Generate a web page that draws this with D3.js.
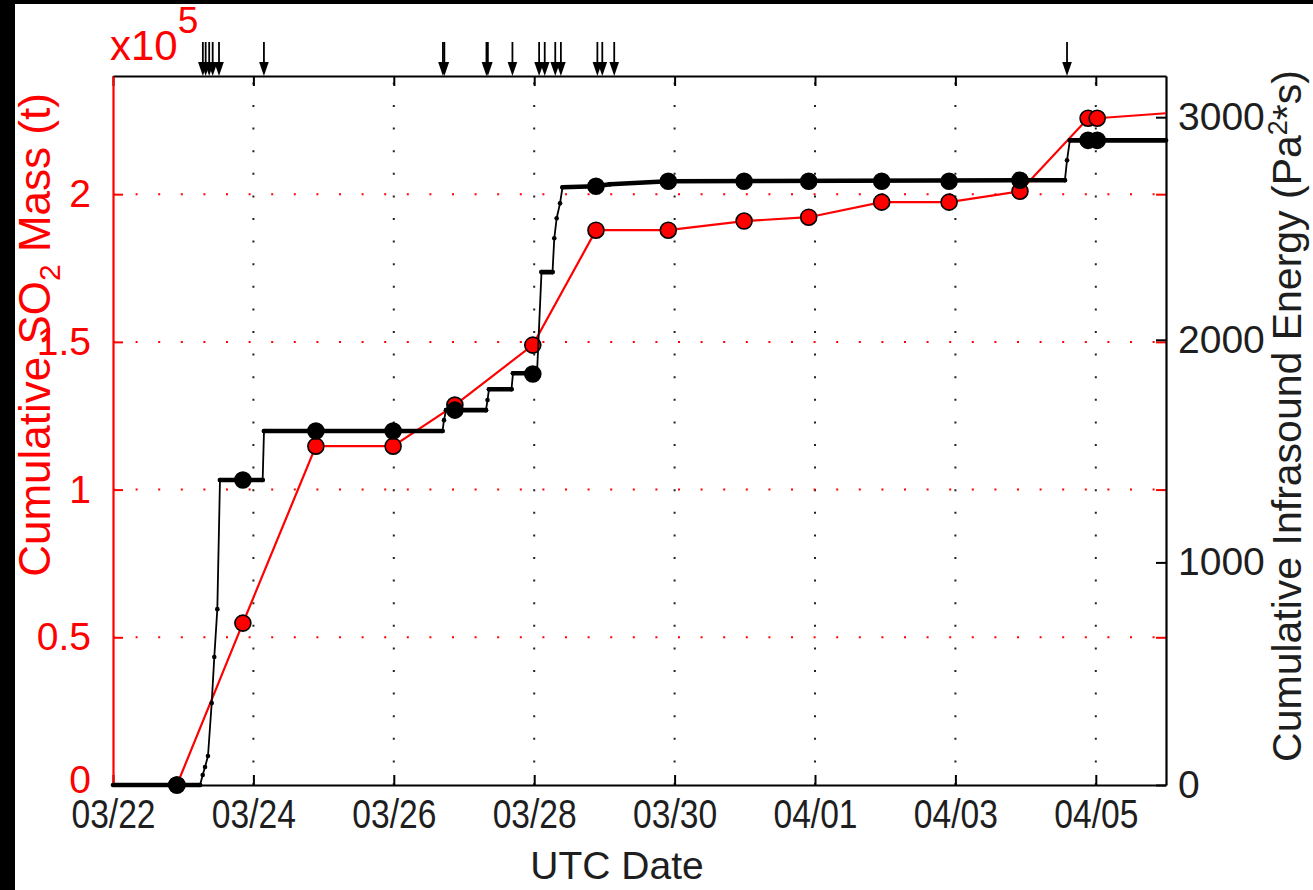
<!DOCTYPE html>
<html>
<head>
<meta charset="utf-8">
<script src="https://cdn.jsdelivr.net/npm/d3@7"></script>
<style>
  html, body { margin: 0; padding: 0; background: #000; }
  svg { display: block; }
  text { font-family: "Liberation Sans", Arial, Helvetica, sans-serif; }
</style>
</head>
<body>
<svg id="chart" width="1313" height="890"></svg>
<script>
// ---------------- DATA ----------------
// x values are days since 03/22 00:00 UTC
const tickDays   = [0, 2, 4, 6, 8, 10, 12, 14];
const tickLabels = ["03/22", "03/24", "03/26", "03/28", "03/30", "04/01", "04/03", "04/05"];
const leftTicks  = [0, 0.5, 1, 1.5, 2];
const leftTickLabels = ["0", "0.5", "1", "1.5", "2"];
const rightTicks = [0, 1000, 2000, 3000];
const rightTickLabels = ["0", "1000", "2000", "3000"];

// SO2 observation times and values (x10^5 t)
const obsDays  = [0.91, 1.85, 2.89, 3.99, 4.87, 5.98, 6.88, 7.91, 8.99, 9.91, 10.95, 11.91, 12.92, 13.89, 14.02];
const so2Mass  = [0, 0.548, 1.147, 1.147, 1.286, 1.489, 1.878, 1.878, 1.909, 1.922, 1.973, 1.973, 2.010, 2.257, 2.257];
// red line continues to the right edge
const so2TailDay = 15.0;
const so2TailMass = 2.274;

// Cumulative infrasound energy at SO2 observation times (Pa^2*s)
const infraAtObs = [0, 1370, 1590, 1590, 1684, 1846, 2690, 2712, 2712, 2712, 2712, 2712, 2717, 2896, 2896];

// Cumulative infrasound energy time series
const infraDays   = [0, 1.24, 1.278, 1.311, 1.353, 1.406, 1.443, 1.486, 1.524, 2.132, 2.151,
                     4.694, 4.715, 4.744, 5.313, 5.335, 5.356, 5.677, 5.698, 6.04, 6.104,
                     6.261, 6.286, 6.32, 6.368, 6.403, 6.88, 7.08, 7.906, 13.56, 13.59, 13.63, 15.0];
const infraEnergy = [0, 0, 45, 81, 130, 368, 575, 790, 1370, 1370, 1590,
                     1590, 1639, 1684, 1684, 1729, 1778, 1778, 1850, 1850, 2304,
                     2304, 2456, 2546, 2613, 2685, 2690, 2699, 2712, 2717, 2806, 2896, 2896];

// Explosion times (arrows on top)
const explosionDays = [1.28, 1.32, 1.37, 1.42, 1.51, 2.15, 4.70, 4.72, 5.32, 5.34, 5.69,
                       6.07, 6.15, 6.30, 6.38, 6.90, 6.97, 7.14, 13.59];

// ---------------- LAYOUT ----------------
const L = 113, R = 1166, T = 76, B = 785;
const svg = d3.select("#chart");
svg.append("rect").attr("x", 15).attr("y", 4).attr("width", 1298).attr("height", 886).attr("fill", "#fff");

const x  = d3.scaleLinear().domain([0, 15]).range([L, R]);
const yL = d3.scaleLinear().domain([0, 2.4]).range([B, T]);
const yR = d3.scaleLinear().domain([0, 3185]).range([B, T]);

const RED = "#ff0000";
const INK = "#1e1e1e";
const FS = 39;

// ---------------- GRID ----------------
const grid = svg.append("g");
grid.selectAll("line.vg").data(tickDays.filter(d => d > 0)).join("line")
  .attr("x1", d => x(d)).attr("x2", d => x(d))
  .attr("y1", B).attr("y2", T)
  .attr("stroke", "#222").attr("stroke-width", 2)
  .attr("stroke-dasharray", "2 20.6");
grid.selectAll("line.hg").data(leftTicks.filter(d => d > 0)).join("line")
  .attr("x1", L).attr("x2", R)
  .attr("y1", d => yL(d)).attr("y2", d => yL(d))
  .attr("stroke", RED).attr("stroke-width", 2)
  .attr("stroke-dasharray", "2 20.6");

// ---------------- AXES ----------------
const axG = svg.append("g");
// bottom axis (ticks inward)
const xAxisB = d3.axisBottom(x).tickValues(tickDays).tickFormat((d, i) => tickLabels[i]).tickSizeInner(-10).tickSizeOuter(0).tickPadding(0);
const gB = axG.append("g").attr("transform", `translate(0,${B})`).call(xAxisB);
gB.select(".domain").attr("stroke", "#000").attr("stroke-width", 2.2);
gB.selectAll(".tick line").attr("stroke", "#000").attr("stroke-width", 2);
gB.selectAll(".tick text").attr("font-size", 41).attr("fill", INK)
  .attr("font-family", "Liberation Sans, Arial, sans-serif")
  .attr("y", null).attr("dy", null)
  .attr("transform", "translate(0,43) scale(0.82,1)");

// top axis (ticks inward, no labels)
const xAxisT = d3.axisTop(x).tickValues(tickDays).tickFormat("").tickSizeInner(-10).tickSizeOuter(0);
const gT = axG.append("g").attr("transform", `translate(0,${T})`).call(xAxisT);
gT.select(".domain").attr("stroke", "#000").attr("stroke-width", 2.2);
gT.selectAll(".tick line").attr("stroke", "#000").attr("stroke-width", 2);

// left axis (red)
const yAxisL = d3.axisLeft(yL).tickValues(leftTicks).tickFormat((d, i) => leftTickLabels[i]).tickSizeInner(-10).tickSizeOuter(0).tickPadding(22);
const gL = axG.append("g").attr("transform", `translate(${L},0)`).call(yAxisL);
gL.select(".domain").attr("stroke", RED).attr("stroke-width", 2.2);
gL.selectAll(".tick line").attr("stroke", RED).attr("stroke-width", 2);
gL.selectAll(".tick text").attr("font-size", FS).attr("fill", RED)
  .attr("font-family", "Liberation Sans, Arial, sans-serif");
// the "0" label sits a little higher so it clears the date labels
gL.selectAll(".tick text").filter(d => d === 0).attr("dy", "0.2em");

// left-axis ticks mirrored on right side (red)
const yAxisLR = d3.axisRight(yL).tickValues(leftTicks.filter(d => d > 0)).tickFormat("").tickSizeInner(-10).tickSizeOuter(0);
const gLR = axG.append("g").attr("transform", `translate(${R},0)`).call(yAxisLR);
gLR.select(".domain").remove();
gLR.selectAll(".tick line").attr("stroke", RED).attr("stroke-width", 2);

// right axis (black)
const yAxisR = d3.axisRight(yR).tickValues(rightTicks).tickFormat((d, i) => rightTickLabels[i]).tickSizeInner(-10).tickSizeOuter(0).tickPadding(12);
const gR = axG.append("g").attr("transform", `translate(${R},0)`).call(yAxisR);
gR.select(".domain").attr("stroke", "#000").attr("stroke-width", 2.2);
gR.selectAll(".tick line").attr("stroke", "#000").attr("stroke-width", 2);
gR.selectAll(".tick text").attr("font-size", FS).attr("fill", INK)
  .attr("font-family", "Liberation Sans, Arial, sans-serif");

// ---------------- SO2 SERIES (red) ----------------
const so2Pts = obsDays.map((d, i) => [d, so2Mass[i]]);
const so2Line = d3.line().x(d => x(d[0])).y(d => yL(d[1]));
svg.append("path")
  .attr("d", so2Line(so2Pts.concat([[so2TailDay, so2TailMass]])))
  .attr("fill", "none").attr("stroke", RED).attr("stroke-width", 2.2);
svg.append("g").selectAll("circle").data(so2Pts).join("circle")
  .attr("cx", d => x(d[0])).attr("cy", d => yL(d[1])).attr("r", 8)
  .attr("fill", RED).attr("stroke", "#000").attr("stroke-width", 1.6);

// ---------------- INFRASOUND SERIES (black) ----------------
const infPts = infraDays.map((d, i) => [d, infraEnergy[i]]);
const infLine = d3.line().x(d => x(d[0])).y(d => yR(d[1]));
svg.append("path")
  .attr("d", infLine(infPts))
  .attr("fill", "none").attr("stroke", "#000").attr("stroke-width", 1.8)
  .attr("stroke-linejoin", "round");
// dense hourly markers make quasi-flat segments look thick
const segs = d3.pairs(infPts).filter(([a, b]) =>
  Math.abs(yR(b[1]) - yR(a[1])) <= Math.abs(x(b[0]) - x(a[0])));
svg.append("g").selectAll("line").data(segs).join("line")
  .attr("x1", d => x(d[0][0])).attr("y1", d => yR(d[0][1]))
  .attr("x2", d => x(d[1][0])).attr("y2", d => yR(d[1][1]))
  .attr("stroke", "#000").attr("stroke-width", 4.6).attr("stroke-linecap", "round");
svg.append("g").selectAll("circle").data(infPts.slice(1, -1)).join("circle")
  .attr("cx", d => x(d[0])).attr("cy", d => yR(d[1])).attr("r", 2.3).attr("fill", "#000");
// big markers at SO2 observation times
svg.append("g").selectAll("circle").data(obsDays.map((d, i) => [d, infraAtObs[i]])).join("circle")
  .attr("cx", d => x(d[0])).attr("cy", d => yR(d[1])).attr("r", 8)
  .attr("fill", "#000").attr("stroke", "#000").attr("stroke-width", 1.6);

// ---------------- EXPLOSION ARROWS ----------------
const arrows = svg.append("g");
arrows.selectAll("line").data(explosionDays).join("line")
  .attr("x1", d => x(d)).attr("x2", d => x(d))
  .attr("y1", 42).attr("y2", 66)
  .attr("stroke", "#000").attr("stroke-width", 1.8);
arrows.selectAll("path").data(explosionDays).join("path")
  .attr("d", d => `M${x(d) - 4.8},${T - 14} L${x(d) + 4.8},${T - 14} L${x(d)},${T} Z`)
  .attr("fill", "#000");

// ---------------- LABELS ----------------
// exponent
const expo = svg.append("text").attr("x", 110).attr("y", 60).attr("fill", RED).attr("font-size", 42);
expo.append("tspan").text("x10");
expo.append("tspan").attr("dy", -27).attr("font-size", 37).text("5");

// x label
svg.append("text").attr("x", 617).attr("y", 879).attr("text-anchor", "middle")
  .attr("font-size", FS).attr("fill", INK).text("UTC Date");

// left y label
const yl = svg.append("text")
  .attr("transform", `translate(50,335) rotate(-90)`)
  .attr("text-anchor", "middle").attr("font-size", 44).attr("fill", RED);
yl.append("tspan").text("Cumulative SO");
yl.append("tspan").attr("font-size", 30).attr("dy", 10).text("2");
yl.append("tspan").attr("dy", -10).text(" Mass (t)");

// right y label
const yr = svg.append("text")
  .attr("transform", `translate(1301,416) rotate(-90)`)
  .attr("text-anchor", "middle").attr("font-size", 41).attr("fill", INK);
yr.append("tspan").text("Cumulative Infrasound Energy (Pa");
yr.append("tspan").attr("font-size", 27).attr("dy", -14).text("2");
yr.append("tspan").attr("dy", 14).text("*s)");
</script>
</body>
</html>
